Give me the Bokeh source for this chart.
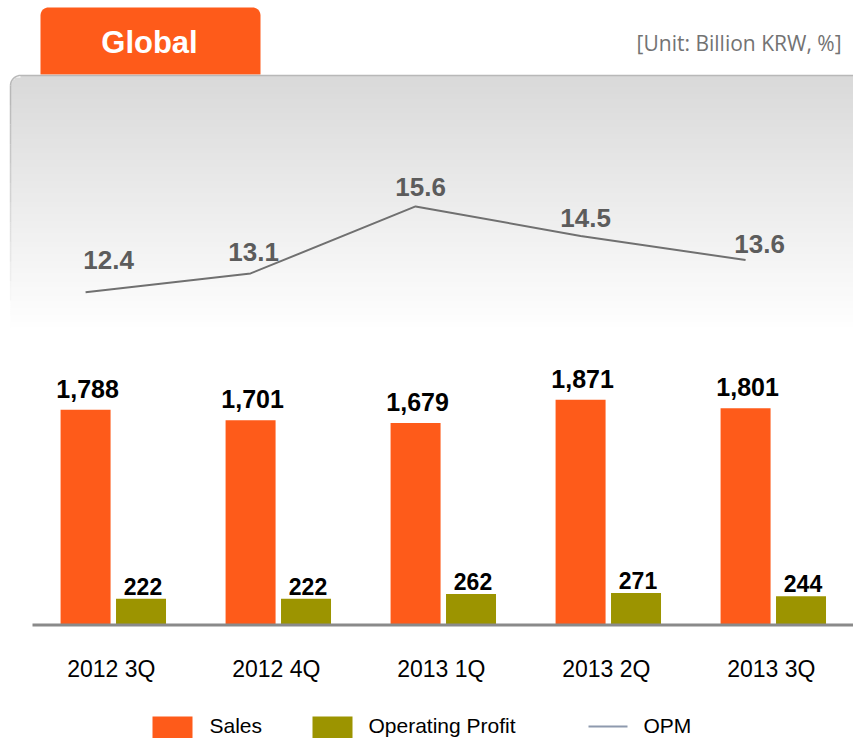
import numpy as np
from bokeh.plotting import figure
from bokeh.models import Range1d, ColumnDataSource
from bokeh.transform import dodge
from bokeh.core.properties import value
from bokeh.embed import file_html
from bokeh.resources import INLINE

# ---------------- data ----------------
categories = ["2012 3Q", "2012 4Q", "2013 1Q", "2013 2Q", "2013 3Q"]
sales = [1788, 1701, 1679, 1871, 1801]
operating_profit = [222, 222, 262, 271, 244]
opm = [12.4, 13.1, 15.6, 14.5, 13.6]
series_names = ["Sales", "Operating Profit", "OPM"]
title_text = "Global"
unit_text = "[Unit: Billion KRW, %]"

# ---------------- styles ----------------
ORANGE = "#FE5B1A"
OLIVE = "#9C9400"
LINE_GRAY = "#707070"
LEGEND_LINE = "#8E9AAE"
FONT = value("Liberation Sans")


def bl(fs):
    """vertical correction so that the given y is the text's alphabetic baseline"""
    return -0.33 * fs


# manual label nudges (screen px) for the OPM labels, as placed in the original
OPM_FS = 26
opm_label_dx = [23, 3, 5, 5, 14]
opm_label_dy = [d + bl(OPM_FS) for d in [-24, -13, -11, -9, -7]]

W, H = 853, 738
SALES_DX = -0.168
OP_DX = 0.168
BAR_W = 0.303

src = ColumnDataSource(dict(
    cat=categories,
    idx=list(range(len(categories))),
    sales=sales,
    op=operating_profit,
    opm=opm,
    sales_label=[f"{v:,}" for v in sales],
    op_label=[f"{v:,}" for v in operating_profit],
    opm_label=[f"{v:.1f}" for v in opm],
    opm_dx=opm_label_dx,
    opm_dy=opm_label_dy,
))

p = figure(width=W, height=H,
           x_range=Range1d(-0.6836, 4.4861),
           y_range=Range1d(-935.4, 5178.9),
           output_backend="svg", toolbar_location=None,
           x_axis_location=None, y_axis_location=None,
           min_border=0, outline_line_color=None,
           background_fill_color="white", border_fill_color="white")
p.xgrid.visible = False
p.ygrid.visible = False
p.extra_x_ranges = {"px": Range1d(0, 853)}
p.extra_y_ranges = {"px": Range1d(738, 0), "opm": Range1d(-4.253, 23.284)}

# ---------------- decorations: gradient panel ----------------
r = 10.0
panel_left, panel_top, panel_fade = 10.0, 75.0, 330.0
ys = np.arange(panel_top, panel_fade, 2.0)
lefts, rights, tops, bottoms, cols = [], [], [], [], []
for y in ys:
    dy = y - panel_top
    if dy < r:
        inset = r - np.sqrt(max(r * r - (r - dy) ** 2, 0.0))
    else:
        inset = 0.0
    t = (y - panel_top) / (panel_fade - panel_top)
    shade = int(round(217 + (255 - 217) * t))
    lefts.append(panel_left + inset)
    rights.append(860)
    tops.append(y)
    bottoms.append(y + 2.6)
    cols.append("#%02x%02x%02x" % (shade, shade, shade))
p.quad(left=lefts, right=rights, top=tops, bottom=bottoms, fill_color=cols,
       line_color=None, x_range_name="px", y_range_name="px")

# ---------------- orange tab ----------------
tr = 8.0
ang1 = np.linspace(np.pi, np.pi / 2, 10)
ang2 = np.linspace(np.pi / 2, 0, 10)
tab_x = [40.0] + list(40 + tr + tr * np.cos(ang1)) + list(260 - tr + tr * np.cos(ang2)) + [260.0]
tab_y = [74.0] + list(7 + tr - tr * np.sin(ang1)) + list(7 + tr - tr * np.sin(ang2)) + [74.0]
p.patch(tab_x, tab_y, fill_color=ORANGE, line_color=None,
        x_range_name="px", y_range_name="px")
p.text(x=[149], y=[52], y_offset=bl(31), text=[title_text], text_color="white",
       text_font=FONT, text_font_style="bold", text_font_size="31px",
       text_align="center", text_baseline="alphabetic",
       x_range_name="px", y_range_name="px")

# panel border (top + rounded corner + fading left edge)
ca = np.linspace(np.pi, np.pi / 2, 12)
bx = list(panel_left + r + r * np.cos(ca)) + [860.0]
by = list(panel_top + r - r * np.sin(ca)) + [panel_top]
p.line(bx, by, line_color="#B8B8B8", line_width=1.5,
       x_range_name="px", y_range_name="px")
seg_y = np.linspace(panel_top + r, 300, 12)
for i in range(len(seg_y) - 1):
    p.line([panel_left, panel_left], [seg_y[i], seg_y[i + 1]],
           line_color="#B8B8B8", line_width=1.5,
           line_alpha=float(1 - i / (len(seg_y) - 1)),
           x_range_name="px", y_range_name="px")

p.text(x=[841], y=[49], y_offset=bl(21), text=[unit_text], text_color="#737373",
       text_font=value("Open Sans"), text_font_size="21px",
       text_align="right", text_baseline="alphabetic",
       x_range_name="px", y_range_name="px")

# ---------------- OPM line ----------------
p.line(x=dodge("idx", SALES_DX), y="opm", source=src,
       y_range_name="opm", line_color=LINE_GRAY, line_width=2)
p.text(x=dodge("idx", SALES_DX), y="opm", text="opm_label",
       source=src, y_range_name="opm", x_offset="opm_dx", y_offset="opm_dy",
       text_color="#5C5C5C", text_font=FONT, text_font_style="bold",
       text_font_size=f"{OPM_FS}px", text_align="center",
       text_baseline="alphabetic")

# ---------------- bars ----------------
p.vbar(x=dodge("idx", SALES_DX), top="sales", width=BAR_W,
       source=src, fill_color=ORANGE, line_color=None)
p.vbar(x=dodge("idx", OP_DX), top="op", width=BAR_W,
       source=src, fill_color=OLIVE, line_color=None)

p.text(x=dodge("idx", SALES_DX), y="sales", text="sales_label",
       source=src, y_offset=-13 + bl(25), x_offset=2, text_color="black",
       text_font=FONT, text_font_style="bold", text_font_size="25px",
       text_align="center", text_baseline="alphabetic")
p.text(x=dodge("idx", OP_DX), y="op", text="op_label",
       source=src, y_offset=-5 + bl(23), x_offset=2, text_color="black",
       text_font=FONT, text_font_style="bold", text_font_size="23px",
       text_align="center", text_baseline="alphabetic")

# baseline
p.line([32, 860], [624.5, 624.5], line_color="#8A8A8A", line_width=3,
       x_range_name="px", y_range_name="px")

# category labels
p.text(x=dodge("idx", -0.012), y=676, y_offset=bl(23), text="cat",
       source=src, y_range_name="px", text_color="black", text_font=FONT,
       text_font_size="23px", text_align="center", text_baseline="alphabetic")

# ---------------- legend (manual) ----------------
p.quad(left=[152, 312], right=[192, 352], top=[716, 716], bottom=[740, 740],
       fill_color=[ORANGE, OLIVE], line_color=None,
       x_range_name="px", y_range_name="px")
p.line([588, 627], [726, 726], line_color=LEGEND_LINE, line_width=2,
       x_range_name="px", y_range_name="px")
p.text(x=[209, 368, 643], y=[732, 732, 732], y_offset=bl(21), text=series_names,
       text_color="black", text_font=FONT, text_font_size="21px",
       text_align="left", text_baseline="alphabetic",
       x_range_name="px", y_range_name="px")

open("out.html", "w").write(file_html(p, INLINE))
